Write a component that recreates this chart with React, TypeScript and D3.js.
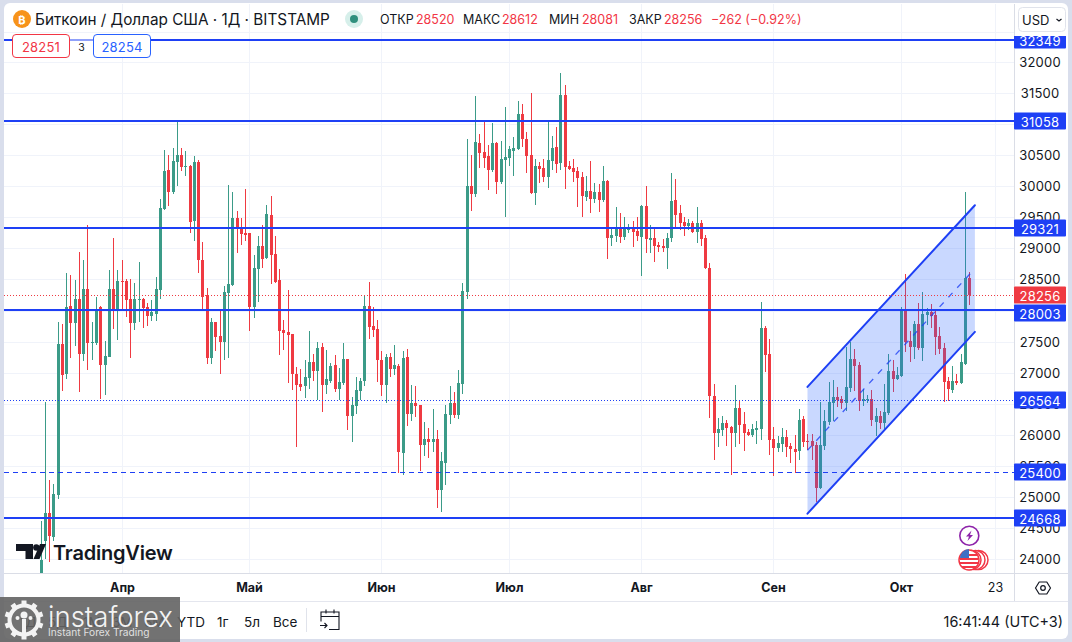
import React from "react";
import * as d3 from "d3";

const opens = [
  22300,24284,24740,24354,25035,27457,26979,28068,27795,28181,
  27295,28342,27473,27473,28052,27118,27247,28342,28004,28471,
  28471,28181,27795,28165,28181,28052,27907,27939,28326,29640,
  30268,29903,30397,30509,30316,30332,29437,30397,28809,28245,
  27231,27811,27585,27489,28278,28406,29485,29340,29244,29244,
  28052,28664,29034,28841,29534,28906,28487,27682,27650,27618,
  26974,26812,26780,26909,27167,27022,27408,26796,26861,27118,
  26732,26829,27215,26297,26458,26700,26861,28068,27746,27698,
  27199,26796,27247,27054,27102,25702,27247,26329,26507,26474,
  25830,25927,25879,25927,25106,25540,26313,26507,26313,26812,
  28294,29996,29868,30689,30544,30479,30254,30689,30061,30415,
  30447,30560,30592,31156,30753,30495,29884,30334,30286,30141,
  30399,30624,30367,31461,30318,30286,30238,30141,29835,29916,
  29787,29900,29771,30077,29159,29207,29352,29191,29288,29352,
  29272,29191,29690,29127,29159,29062,29046,29014,29159,29771,
  29562,29417,29368,29401,29256,29401,29159,28680,26619,26023,
  26072,26185,26120,26023,26426,26168,26039,25991,26072,26088,
  27714,27296,25927,25782,25846,25959,25814,25766,25734,26249,
  25895,25895,25830,25138,25814,26201,26507,26603,26571,26507,
  26748,27215,27118,26539,26555,26571,26201,26297,26185,26345,
  27022,26893,26941,27988,27505,27408,27779,27392,27923,27972,
  27923,27585,27392,26861,26716,26861,26829,27134,28520,
];
const highs = [
  24617,26527,25277,25213,27811,27779,28605,28567,28487,28938,
  28809,29373,27811,28213,28068,27505,28648,29163,28648,28809,
  28503,28503,28439,28777,28197,28117,28165,28535,29801,30579,
  30509,30622,31041,30622,30574,30348,30493,30429,29099,28358,
  27875,27811,27988,28390,30026,29903,29608,29485,29957,29244,
  28889,29195,29373,29694,29849,29195,28664,27843,28326,27618,
  27086,27054,27199,27666,27296,27489,27473,27360,27151,27279,
  27070,27473,27215,26603,26925,26909,28245,28455,28052,27843,
  27344,27296,27312,27440,27135,27344,27376,26796,26780,26474,
  26201,26104,26410,26072,25718,26474,26780,26684,27038,28439,
  30753,30495,31445,30834,31043,30656,31011,30705,30721,31268,
  30640,30785,31365,31317,30866,31494,30431,30383,30431,31027,
  30801,30946,31816,31622,30399,30431,30302,30222,30157,30399,
  30045,30029,30334,30093,29352,29674,29562,29513,29400,29433,
  29497,29706,30012,29384,29304,29095,29143,29240,30206,30109,
  29706,29513,29465,29433,29658,29449,29223,28761,26813,26265,
  26297,26233,26136,26796,26555,26362,26088,26168,26217,28133,
  27746,27537,26120,25975,26104,26072,25863,25991,26410,26300,
  26007,26007,25884,26523,26394,26845,26877,26764,26619,27408,
  27489,27376,27167,26732,26635,26716,26426,26378,26813,27295,
  27199,27086,28052,28584,27666,27827,28117,28294,28036,28100,
  27988,27730,27473,26925,27102,26973,27295,29904,28612,
];
const lows = [
  22000,24000,23946,24284,24960,26700,26893,27236,27424,26684,
  27183,27038,27199,27440,26570,26635,27247,27698,27521,27988,
  27891,27231,27682,27811,27714,27746,27827,27827,28181,29625,
  29688,29880,30010,30252,30171,29244,29115,28600,28004,27134,
  27134,27344,26974,27199,27231,28390,28922,29050,29115,27666,
  27875,28133,28680,28825,28423,28439,27279,27360,26829,26716,
  25803,26700,26587,26732,26861,26555,26362,26651,26829,26684,
  26555,26796,26072,25879,26329,26555,26780,27537,27569,26845,
  26619,26507,26925,26957,25380,25347,26136,26217,26281,25412,
  25653,25621,25718,24816,24752,25186,26168,26265,26249,26651,
  28180,29594,29819,30286,30286,29932,30222,29868,30029,29497,
  30318,30173,30576,30624,30206,29868,29706,30045,30061,29964,
  30254,30206,30254,29948,30254,30061,29674,29513,29755,29562,
  29723,29578,29739,28837,29046,29095,29079,29127,29240,29030,
  29111,28563,28918,28918,28773,28934,28934,28660,29095,29320,
  29288,29207,29288,29240,29079,29046,28660,26265,25589,25798,
  25975,25814,25347,25798,25846,25734,25975,25959,25846,25911,
  27006,25669,25331,25718,25718,25637,25541,25379,25589,25798,
  25750,25589,24913,25122,25750,26152,26217,26442,26410,26378,
  26684,26700,26378,26458,26507,26136,25975,26088,26088,26313,
  26684,26877,26925,27328,27167,27215,27360,27183,27762,27714,
  27279,27295,26523,26539,26668,26796,26813,27118,28081,
];
const closes = [
  23978,24740,24365,25046,27457,26957,28052,27795,28181,27295,
  28342,27473,27489,28004,27118,27263,28342,28020,28471,28455,
  28165,27795,28181,28181,28036,27907,27972,28342,29646,30252,
  29903,30413,30509,30316,30332,29421,30397,28809,28213,27231,
  27811,27569,27489,28294,28423,29485,29308,29228,29211,28052,
  28680,29034,28825,29550,28889,28455,27666,27639,27601,26974,
  26796,26764,26925,27167,27022,27392,26796,26893,27102,26732,
  26845,27215,26297,26474,26716,26861,28068,27730,27682,27199,
  26796,27247,27054,27118,25718,27231,26329,26507,26458,25830,
  25927,25879,25927,25106,25573,26329,26507,26313,26829,28310,
  29996,29868,30705,30528,30447,30254,30689,30061,30431,30463,
  30592,30608,31156,30753,30479,29884,30334,30270,30141,30415,
  30608,30351,31461,30302,30270,30222,30125,29851,29916,29787,
  29900,29771,30077,29159,29223,29352,29191,29336,29352,29256,
  29207,29690,29143,29175,29046,29030,29014,29175,29755,29545,
  29401,29368,29401,29256,29401,29143,28680,26619,26023,26088,
  26185,26104,26023,26426,26152,26023,25991,26088,26104,27714,
  27279,25911,25782,25863,25959,25798,25766,25718,26233,25879,
  25879,25814,25138,25830,26217,26523,26603,26555,26507,26764,
  27215,27102,26539,26571,26571,26233,26297,26185,26362,27022,
  26893,26957,28004,27489,27408,27779,27392,27939,27972,27907,
  27569,27376,26845,26732,26861,26829,27167,28519,28256,
];

const priceTicks = d3.range(24000, 32001, 500);
const monthTicks: [number, string, boolean][] = [
  [19, "Апр", true], [49, "Май", true], [80, "Июн", true], [110, "Июл", true],
  [141, "Авг", true], [172, "Сен", true], [202, "Окт", true], [224, "23", false],
];
const solidLevels = [32349, 31058, 29321, 28003, 24668];
const dottedLevel = 26564;
const dashedLevel = 25400;
const lastClose = 28256;
const channelIndex = [179.9, 219.2];
const channelUpper = [26770, 29694];
const channelLower = [24730, 27655];
const channelMid = [25750, 28675];
const rangeButtons: [string, number][] = [
  ["1Д", 20], ["5Д", 48], ["1М", 83], ["3М", 112], ["6М", 144], ["YTD", 177], ["1г", 217], ["5л", 244], ["Все", 273],
];
const ohlcParts: [string, string, number, number][] = [
  ["ОТКР", "28520", 380, 416], ["МАКС", "28612", 463, 502], ["МИН", "28081", 549, 582], ["ЗАКР", "28256", 629, 664],
];

const UP = "#3b9b88";
const DOWN = "#ef3a42";
const BLUE = "#1e40f5";
const INK = "#131722";
const FONT = "Inter, 'Noto Sans', sans-serif";

const y = d3.scaleLinear().domain([24000, 32000]).range([559, 62]);
const x = d3.scaleLinear().domain([0, 218]).range([41.1, 969.78]);
const px = (i: number) => Math.floor(x(i)) + 0.5;

export default function App() {
  const area = d3.area<number>()
    .x((_, i) => x(channelIndex[i]))
    .y0((_, i) => y(channelLower[i]))
    .y1((_, i) => y(channelUpper[i]));
  const line = (vals: number[]) =>
    d3.line<number>().x((_, i) => x(channelIndex[i])).y((d) => y(d))(vals) as string;

  const label = (p: number, fill: string, clipTop = false, shift = 0) => {
    const cy = Math.round(y(p)) + shift;
    return (
      <g key={p} clipPath={clipTop ? "url(#axisClip)" : undefined}>
        <rect x={1014} y={cy - 8.5} width={52} height={17} fill={fill} rx={1} />
        <text x={1040} y={cy + 0.5} fill="#fff" fontSize={13} textAnchor="middle" dominantBaseline="central" letterSpacing={0.2}>{p}</text>
      </g>
    );
  };

  return (
    <svg width={1072} height={642} viewBox="0 0 1072 642" style={{ position: "absolute", left: 0, top: 0, display: "block" }} fontFamily={FONT}>
      <defs>
        <clipPath id="plotClip"><rect x={4} y={36} width={1010} height={537} /></clipPath>
        <clipPath id="axisClip"><rect x={1014} y={36} width={54} height={537} /></clipPath>
      </defs>
      <rect width={1072} height={642} fill="#d9deec" />
      <rect x={4} y={3} width={1064} height={636} rx={6} fill="#fff" />

      {/* grid */}
      {priceTicks.map((t) => (
        <line key={t} x1={4} x2={1014} y1={Math.round(y(t)) + 0.5} y2={Math.round(y(t)) + 0.5} stroke="#f0f3fa" />
      ))}
      {monthTicks.map(([i]) => (
        <line key={i} x1={px(i)} x2={px(i)} y1={4} y2={573} stroke="#f0f3fa" />
      ))}
      <line x1={4} x2={1014} y1={32.5} y2={32.5} stroke="#f0f3fa" />

      {/* candles */}
      <g clipPath="url(#plotClip)">
        {opens.map((o, i) => {
          const c = closes[i];
          const col = c >= o ? UP : DOWN;
          const top = Math.round(y(Math.max(o, c)));
          const bot = Math.round(y(Math.min(o, c)));
          const hi = Math.round(y(highs[i]));
          const lo = Math.round(y(lows[i]));
          return (
            <g key={i} fill={col}>
              <rect x={px(i) - 0.5} y={hi} width={1} height={Math.max(lo - hi, 1)} />
              <rect x={px(i) - 1.5} y={top} width={3} height={Math.max(bot - top, 1)} />
            </g>
          );
        })}
      </g>

      {/* channel */}
      <path d={area([0, 1]) as string} fill="#2962ff" opacity={0.25} />
      <path d={line(channelUpper)} stroke={BLUE} strokeWidth={2} fill="none" strokeLinecap="round" />
      <path d={line(channelLower)} stroke={BLUE} strokeWidth={2} fill="none" strokeLinecap="round" />
      <path d={line(channelMid)} stroke={BLUE} strokeWidth={1.3} fill="none" strokeDasharray="6 7" opacity={0.8} />

      {/* levels */}
      {solidLevels.map((p) => (
        <line key={p} x1={4} x2={1014} y1={Math.round(y(p))} y2={Math.round(y(p))} stroke={BLUE} strokeWidth={2} />
      ))}
      <line x1={4} x2={1014} y1={Math.round(y(dottedLevel)) + 0.5} y2={Math.round(y(dottedLevel)) + 0.5} stroke={BLUE} strokeDasharray="1 2" />
      <line x1={4} x2={1014} y1={Math.round(y(dashedLevel)) + 0.5} y2={Math.round(y(dashedLevel)) + 0.5} stroke={BLUE} strokeDasharray="5 4" />
      <line x1={4} x2={1014} y1={Math.round(y(lastClose)) + 0.5} y2={Math.round(y(lastClose)) + 0.5} stroke={DOWN} strokeDasharray="1 2" />

      {/* TradingView logo */}
      <g fill={INK}>
        <path d="M16 544h17v15h-7.500v-8h-9.500z" />
        <circle cx={36.300} cy={547.500} r={3.200} />
        <path d="M33.500 559L40 544h6l-6.500 15z" />
        <text x={53} y={559.500} fontSize={20} fontWeight={600} letterSpacing={-0.2}>TradingView</text>
      </g>

      {/* axes frame */}
      <line x1={1014.500} x2={1014.500} y1={4} y2={601} stroke="#dadde6" />
      <line x1={4} x2={1068} y1={573.500} y2={573.500} stroke="#dadde6" />
      <line x1={4} x2={1068} y1={601.500} y2={601.500} stroke="#e4e6ee" />

      {/* price axis */}
      <g fontSize={13} fill={INK} textAnchor="middle" dominantBaseline="central" letterSpacing={0.2}>
        {priceTicks.map((t) => (
          <text key={t} x={1040} y={Math.round(y(t)) - 0.5}>{t}</text>
        ))}
      </g>
      {label(32349, BLUE, true)}
      {label(31058, BLUE)}
      {label(29321, BLUE)}
      {label(dottedLevel, BLUE)}
      {label(lastClose, DOWN)}
      {label(28003, BLUE, false, 3)}
      {label(dashedLevel, BLUE)}
      {label(24668, BLUE)}

      {/* time axis */}
      <g fontSize={12.500} fill={INK} textAnchor="middle" dominantBaseline="central">
        {monthTicks.map(([i, t, bold]) => (
          <text key={t} x={px(i)} y={587.500} fontWeight={bold ? 700 : 400}>{t}</text>
        ))}
      </g>
      <g fill="none" stroke={INK} strokeWidth={1.200}>
        <path d="M1035.500 588l3.700-6h7.600l3.700 6l-3.700 6h-7.600z" strokeLinejoin="round" />
        <circle cx={1043} cy={588} r={2.300} />
      </g>

      {/* header */}
      <circle cx={22} cy={19} r={9} fill="#f7931a" />
      <text x={22} y={19.500} fontSize={11} fontWeight={700} fill="#fff" textAnchor="middle" dominantBaseline="central">₿</text>
      <text x={35} y={19.500} fontSize={15.300} fill={INK} dominantBaseline="central">Биткоин / Доллар США · 1Д · BITSTAMP</text>
      <circle cx={354} cy={19} r={9} fill="#d6efea" />
      <circle cx={354} cy={19} r={4} fill="#2f8f7d" />
      <g fontSize={12.500} dominantBaseline="central">
        {ohlcParts.map(([name, val, a, b]) => (
          <g key={name}>
            <text x={a} y={19.500} fill={INK}>{name}</text>
            <text x={b} y={19.500} fill="#f23645">{val}</text>
          </g>
        ))}
        <text x={711} y={19.500} fill="#f23645">−262 (−0.92%)</text>
      </g>

      {/* USD */}
      <rect x={1018.500} y={7.500} width={47} height={24} rx={4} fill="#fff" stroke="#e0e3eb" />
      <text x={1022} y={20} fontSize={13} fill={INK} dominantBaseline="central">USD</text>
      <path d="M1056.500 19l2.500 2 2.500-2" fill="none" stroke={INK} strokeWidth={1.200} />

      {/* order boxes */}
      <rect x={70} y={39} width={24} height={2} fill="#fff" opacity={0.5} />
      <rect x={12.500} y={34.500} width={57} height={23} rx={3.500} fill="#fff" stroke="#f23645" />
      <text x={41} y={46.500} fontSize={13} fill="#f23645" textAnchor="middle" dominantBaseline="central" letterSpacing={0.2}>28251</text>
      <text x={81.500} y={47} fontSize={10.500} fill={INK} textAnchor="middle" dominantBaseline="central">3</text>
      <rect x={93.500} y={34.500} width={57} height={23} rx={3.500} fill="#fff" stroke="#2962ff" />
      <text x={122} y={46.500} fontSize={13} fill="#2962ff" textAnchor="middle" dominantBaseline="central" letterSpacing={0.2}>28254</text>

      {/* event icons */}
      {[978.500, 975.500, 971.500].map((cx) => (
        <circle key={cx} cx={cx} cy={560} r={9.500} fill="#fff" stroke="#f23645" strokeWidth={1.500} />
      ))}
      <circle cx={969} cy={560} r={10} fill="#fff" stroke="#f23645" strokeWidth={1.500} />
      <g fill="#f23645">
        <rect x={961} y={554} width={16} height={2} />
        <rect x={960} y={558} width={18} height={2} />
        <rect x={960} y={562} width={18} height={2} />
        <rect x={962} y={566} width={14} height={2} />
      </g>
      <path d="M960 558a9 9 0 0 1 9-9v9z" fill="#3f6fc4" />
      <circle cx={969.300} cy={535.700} r={9.500} fill="#fff" stroke="#8e24aa" strokeWidth={1.600} />
      <path d="M971.500 530.500l-5.500 6h3l-1.500 4.500 5.500-6h-3z" fill="#8e24aa" />

      {/* bottom toolbar */}
      <g fontSize={13.500} fill={INK} dominantBaseline="central">
        {rangeButtons.map(([t, bx]) => (
          <text key={t} x={bx} y={621.500}>{t}</text>
        ))}
      </g>
      <line x1={306.500} x2={306.500} y1={608} y2={632} stroke="#e0e3eb" />
      <g fill="none" stroke={INK} strokeWidth={1.100}>
        <path d="M321 621.500v-9.500h18v17.500h-10" />
        <path d="M321 616.500h18M326 609.500v4M334 609.500v4" />
        <path d="M320 625.500h7m-2.500-2.500l2.500 2.500-2.500 2.500" />
      </g>
      <text x={1063} y={621.500} fontSize={14.400} fill={INK} textAnchor="end" dominantBaseline="central">16:41:44 (UTC+3)</text>

      {/* instaforex overlay */}
      <rect x={0} y={597} width={180} height={45} fill="#636363" opacity={0.9} />
      <g fill="#fff" opacity={0.92}>
        <g transform="translate(24,620)">
          {d3.range(10).map((k) => (
            <rect key={k} x={-2.500} y={-19.500} width={5} height={6} transform={`rotate(${k * 36})`} />
          ))}
          <circle r={14.500} fill="none" stroke="#fff" strokeWidth={4} />
          <circle cy={-5} r={3.500} />
          <circle cx={-6.500} cy={-2} r={2} />
          <circle cx={6.500} cy={-2} r={2} />
          <rect x={-2} y={-1} width={4} height={14} />
        </g>
        <text x={48} y={627} fontSize={29} fontWeight={300} textLength={125} lengthAdjust="spacingAndGlyphs">instaforex</text>
        <text x={48} y={636} fontSize={10.200} opacity={0.85}>Instant Forex Trading</text>
      </g>
    </svg>
  );
}
